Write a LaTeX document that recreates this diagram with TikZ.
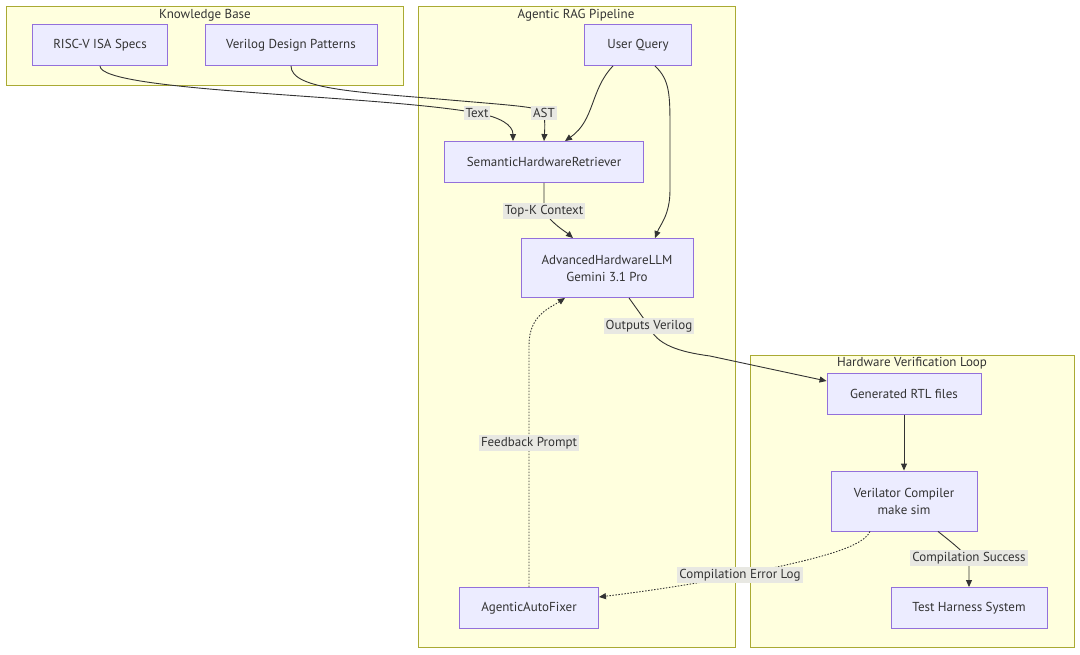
\documentclass[tikz,border=0pt]{standalone}
\usepackage{fontspec}
\setmainfont{PT Sans}
\usetikzlibrary{arrows.meta,positioning,calc}
\definecolor{MM-YELLOW}{HTML}{FFFFDE}
\definecolor{MM-OLIVE}{HTML}{AAAA33}
\definecolor{MM-LAVENDER}{HTML}{ECECFF}
\definecolor{MM-PURPLE}{HTML}{9370DB}
\definecolor{MM-GREY}{HTML}{E8E8E2}
\definecolor{MM-DARK}{HTML}{333333}

\begin{document}
\begin{tikzpicture}[x=1pt, y=-1pt, font=\fontsize{13}{17}\selectfont,
  box/.style={draw=MM-PURPLE, fill=MM-LAVENDER, line width=0.9pt, minimum height=41pt, inner sep=0pt, align=center, text=MM-DARK},
  group/.style={draw=MM-OLIVE, fill=MM-YELLOW, line width=0.9pt},
  title/.style={text=MM-DARK, inner sep=1pt},
  edge/.style={-{Triangle[length=7pt,width=6pt]}, draw=MM-DARK, line width=0.9pt},
  dots/.style={edge, dash pattern=on 1.5pt off 1.5pt},
  lbl/.style={fill=MM-GREY, inner sep=2pt, text=MM-DARK}]
  \useasboundingbox[fill=white] (0,0) rectangle (1080,654);

  % Subgraphs
  \draw[group] (6,6) rectangle (403,85);
  \node[title] (kbTitle) at (205,15) {Knowledge Base};
  \draw[group] (418,6) rectangle (735,647);
  \node[title] (ragTitle) at (576,15) {Agentic RAG Pipeline};
  \draw[group] (750,355) rectangle (1074,647);
  \node[title] (hwTitle) at (912,363) {Hardware Verification Loop};

  % Knowledge base
  \node[box, minimum width=135pt] (isa) at (100,45) {RISC-V ISA Specs};
  \node[box, minimum width=172pt] (pat) at (291,45) {Verilog Design Patterns};

  % RAG pipeline
  \node[box, minimum width=107pt] (query) at (638,45) {User Query};
  \node[box, minimum width=199pt] (retr) at (544,162) {SemanticHardwareRetriever};
  \node[box, minimum width=172pt, minimum height=59pt] (llm) at (607,268) {AdvancedHardwareLLM\\Gemini 3.1 Pro};
  \node[box, minimum width=139pt] (fixer) at (529,608) {AgenticAutoFixer};

  % Verification loop
  \node[box, minimum width=154pt] (rtl) at (904,394) {Generated RTL files};
  \node[box, minimum width=146pt, minimum height=60pt] (veri) at (904,501) {Verilator Compiler\\make sim};
  \node[box, minimum width=156pt] (harness) at (969,608) {Test Harness System};

  % Retrieval edges
  \draw[edge] (isa.south) .. controls (100,92) and (380,95) .. (477,113) node[lbl] {Text}
    .. controls (500,117) and (513,125) .. ([xshift=-31pt]retr.north);
  \draw[edge] (pat.south) .. controls (291,90) and (360,92) .. (450,100)
    .. controls (520,106) and (540,107) .. (544,113) node[lbl] {AST}
    .. controls (545,125) .. (retr.north);
  \draw[edge] ([xshift=-25pt]query.south) .. controls (590,90) and (595,120) .. ([xshift=21pt]retr.north);
  \draw[edge] ([xshift=17pt]query.south) .. controls (670,80) and (670,95) .. (670,130)
    -- (670,190) .. controls (670,215) and (660,225) .. ([xshift=48pt]llm.north);
  \draw[edge] (retr.south) -- (544,211) node[lbl] {Top-K Context}
    .. controls (552,224) and (566,232) .. ([xshift=-34pt]llm.north);

  % Generation and verification
  \draw[edge] ([xshift=22pt]llm.south) -- (649,326) node[lbl] {Outputs Verilog}
    .. controls (656,345) and (680,352) .. (710,356) -- ([yshift=13pt]rtl.west);
  \draw[edge] (rtl) -- (veri);
  \draw[edge] ([xshift=34pt]veri.south) .. controls (955,545) .. (969,558) node[lbl] {Compilation Success}
    -- (harness.north);

  % Feedback loop
  \draw[dots] ([xshift=-34pt]veri.south) .. controls (862,550) and (800,562) .. (740,575) node[lbl] {Compilation Error Log}
    .. controls (690,585) and (640,592) .. ([yshift=11pt]fixer.east);
  \draw[dots] (fixer.north) -- (529,443) node[lbl] {Feedback Prompt} -- (529,345)
    .. controls (529,315) and (550,308) .. ([xshift=-42pt]llm.south);
\end{tikzpicture}
\end{document}
